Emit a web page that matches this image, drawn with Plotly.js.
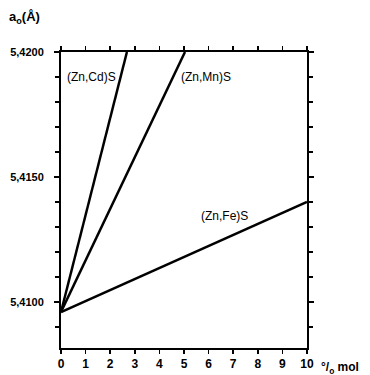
<!DOCTYPE html>
<html>
<head>
<meta charset="utf-8">
<script src="https://cdn.plot.ly/plotly-3.0.1.min.js"></script>
<style>html,body{margin:0;padding:0;background:#fff;}#chart{width:370px;height:375px;}</style>
</head>
<body>
<div id="chart"></div>
<script>
// Lattice parameter a0 (Å) vs mol %
const seriesNames = ["(Zn,Cd)S", "(Zn,Mn)S", "(Zn,Fe)S"];
const xCd = [0, 2.68];
const yCd = [5.4096, 5.4200];
const xMn = [0, 5.04];
const yMn = [5.4096, 5.4200];
const xFe = [0, 10];
const yFe = [5.4096, 5.4140];
const labelX = [0.15, 4.8, 5.6];
const labelY = [5.4190, 5.4190, 5.41345];

const lineStyle = {color: "#000", width: 2.5};
const traces = [
  {x: xCd, y: yCd, mode: "lines", line: lineStyle, hoverinfo: "skip"},
  {x: xMn, y: yMn, mode: "lines", line: lineStyle, hoverinfo: "skip"},
  {x: xFe, y: yFe, mode: "lines", line: lineStyle, hoverinfo: "skip"}
];

const fam = "Liberation Sans, Arial, sans-serif";
const annotations = seriesNames.map((n, i) => ({
  x: labelX[i], y: labelY[i], xref: "x", yref: "y", text: n, showarrow: false,
  xanchor: "left", yanchor: "middle",
  font: {family: fam, size: 12, color: "#000"}
}));
annotations.push({
  xref: "paper", yref: "paper", x: -0.22, y: 1.08, xanchor: "left", yanchor: "bottom",
  text: "<b>a<sub>o</sub>(Å)</b>", showarrow: false,
  font: {family: fam, size: 13, color: "#000"}
});
annotations.push({
  xref: "paper", yref: "paper", x: 1.05, y: -0.035, xanchor: "left", yanchor: "top",
  text: "<b>°/<sub>o</sub> mol</b>", showarrow: false,
  font: {family: fam, size: 12, color: "#000"}
});

const layout = {
  width: 370, height: 375,
  margin: {l: 61, r: 63, t: 52, b: 27},
  paper_bgcolor: "#fff", plot_bgcolor: "#fff",
  showlegend: false,
  separators: ", ",
  font: {family: fam, color: "#000"},
  xaxis: {
    range: [0, 10], tickmode: "linear", tick0: 0, dtick: 1,
    showgrid: false, zeroline: false,
    showline: true, linecolor: "#000", linewidth: 2, mirror: "ticks",
    ticks: "outside", ticklen: 4, tickwidth: 1.5, tickcolor: "#000",
    tickfont: {family: fam, size: 12, color: "#000", weight: "bold"}
  },
  yaxis: {
    range: [5.40816, 5.4200], tickmode: "linear", tick0: 5.41, dtick: 0.005,
    tickformat: ".4f",
    showgrid: false, zeroline: false,
    showline: true, linecolor: "#000", linewidth: 2, mirror: "ticks",
    ticks: "outside", ticklen: 5, tickwidth: 1.5, tickcolor: "#000",
    ticklabelstandoff: 8,
    minor: {dtick: 0.001, tick0: 5.41, ticks: "outside", ticklen: 4, tickwidth: 1.5, tickcolor: "#000", showgrid: false},
    tickfont: {family: fam, size: 11, color: "#000", weight: "bold"}
  },
  annotations: annotations
};

Plotly.newPlot("chart", traces, layout, {staticPlot: true, displayModeBar: false});
</script>
</body>
</html>
